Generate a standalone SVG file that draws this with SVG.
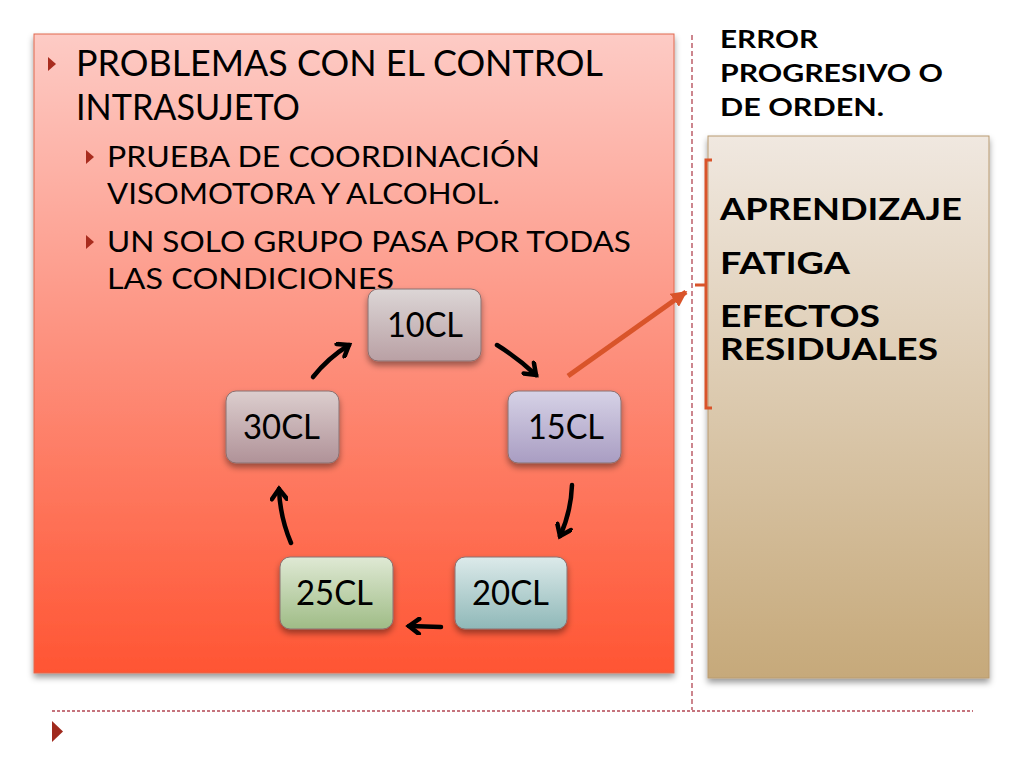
<svg xmlns="http://www.w3.org/2000/svg" width="1024" height="768" viewBox="0 0 1024 768">
<defs>
<linearGradient id="gRed" x1="0" y1="0" x2="0" y2="1">
<stop offset="0" stop-color="#fdcbc5"/><stop offset="0.5" stop-color="#fd8f7c"/><stop offset="1" stop-color="#ff5533"/>
</linearGradient>
<linearGradient id="gTan" x1="0" y1="0" x2="0" y2="1">
<stop offset="0" stop-color="#f0e8e0"/><stop offset="1" stop-color="#c6a97a"/>
</linearGradient>
<linearGradient id="g10" x1="0" y1="0" x2="0" y2="1"><stop offset="0" stop-color="#dcd6d6"/><stop offset="1" stop-color="#b9a0a4"/></linearGradient>
<linearGradient id="g15" x1="0" y1="0" x2="0" y2="1"><stop offset="0" stop-color="#d6d2e6"/><stop offset="1" stop-color="#a99dc2"/></linearGradient>
<linearGradient id="g20" x1="0" y1="0" x2="0" y2="1"><stop offset="0" stop-color="#dceaea"/><stop offset="1" stop-color="#8fb8b8"/></linearGradient>
<linearGradient id="g25" x1="0" y1="0" x2="0" y2="1"><stop offset="0" stop-color="#dfe9d4"/><stop offset="1" stop-color="#9fbc86"/></linearGradient>
<linearGradient id="g30" x1="0" y1="0" x2="0" y2="1"><stop offset="0" stop-color="#dccece"/><stop offset="1" stop-color="#b09298"/></linearGradient>
<filter id="sh" x="-10%" y="-10%" width="120%" height="130%">
<feDropShadow dx="0" dy="4" stdDeviation="3" flood-color="#000" flood-opacity="0.4"/>
</filter>
<marker id="chev" viewBox="0 0 18 18" refX="14" refY="9" markerWidth="18" markerHeight="18" markerUnits="userSpaceOnUse" orient="auto">
<path d="M4,1.5 L14,9 L4,16.5" fill="none" stroke="#000" stroke-width="4.5" stroke-linecap="round" stroke-linejoin="miter"/>
</marker>
<marker id="tri" viewBox="0 0 10 10" refX="9" refY="5" markerWidth="16" markerHeight="16" markerUnits="userSpaceOnUse" orient="auto">
<path d="M0,0 L10,5 L0,10 Z" fill="#d9542a"/>
</marker>
<path id="bul" d="M0,0 L8,7 L0,14 Z" fill="#a82c1e"/>
</defs>
<style>
.t{font-family:Lato,"Liberation Sans",sans-serif;fill:#000}
.b{font-family:Lato,"Liberation Sans",sans-serif;font-weight:bold;fill:#000}
.n{font-family:Lato,"Liberation Sans",sans-serif;font-size:35px;fill:#000}
.nb{stroke:#8a7070;stroke-width:1}
.ar{fill:none;stroke:#000;stroke-width:4.5;stroke-linecap:round;marker-end:url(#chev)}
.dash{stroke:#b24552;stroke-width:1.3;fill:none}
</style>
<rect width="1024" height="768" fill="#fff"/>
<g id="panel-left">
<rect x="34" y="34" width="640" height="639" fill="url(#gRed)" stroke="#e0684f" stroke-width="1" filter="url(#sh)"/>
<use href="#bul" x="48" y="57"/>
<use href="#bul" x="86" y="150"/>
<use href="#bul" x="86" y="235"/>
<text class="t" x="76" y="76" font-size="36" textLength="527" lengthAdjust="spacingAndGlyphs">PROBLEMAS CON EL CONTROL</text>
<text class="t" x="76" y="120" font-size="36" textLength="224" lengthAdjust="spacingAndGlyphs">INTRASUJETO</text>
<text class="t" x="107" y="167" font-size="29" textLength="433" lengthAdjust="spacingAndGlyphs">PRUEBA DE COORDINACIÓN</text>
<text class="t" x="107" y="204" font-size="29" textLength="393" lengthAdjust="spacingAndGlyphs">VISOMOTORA Y ALCOHOL.</text>
<text class="t" x="107" y="252" font-size="29" textLength="524" lengthAdjust="spacingAndGlyphs">UN SOLO GRUPO PASA POR TODAS</text>
<text class="t" x="107" y="289" font-size="29" textLength="287" lengthAdjust="spacingAndGlyphs">LAS CONDICIONES</text>
</g>
<g id="panel-right">
<rect x="708" y="136" width="281" height="542" fill="url(#gTan)" stroke="#b89a70" stroke-width="1" filter="url(#sh)"/>
<text class="b" x="720" y="220" font-size="31" textLength="242" lengthAdjust="spacingAndGlyphs">APRENDIZAJE</text>
<text class="b" x="720" y="274" font-size="31" textLength="130" lengthAdjust="spacingAndGlyphs">FATIGA</text>
<text class="b" x="720" y="327" font-size="30" textLength="160" lengthAdjust="spacingAndGlyphs">EFECTOS</text>
<text class="b" x="720" y="360" font-size="30" textLength="218" lengthAdjust="spacingAndGlyphs">RESIDUALES</text>
</g>
<g id="title-right">
<text class="b" x="720" y="48" font-size="25" textLength="98" lengthAdjust="spacingAndGlyphs">ERROR</text>
<text class="b" x="720" y="82" font-size="25" textLength="223" lengthAdjust="spacingAndGlyphs">PROGRESIVO O</text>
<text class="b" x="720" y="116" font-size="25" textLength="164" lengthAdjust="spacingAndGlyphs">DE ORDEN.</text>
</g>
<g id="decor">
<line class="dash" x1="692" y1="35" x2="692" y2="710" stroke-dasharray="5,3"/>
<line class="dash" x1="52" y1="711" x2="973" y2="711" stroke-dasharray="3,2"/>
<path d="M52,721 L63,731.5 L52,742 Z" fill="#a02a1e"/>
<path d="M712,160 L706,160 L706,408 L712,408 M706,285 L695,285" fill="none" stroke="#d9542a" stroke-width="3"/>
</g>
<g id="connectors">
<path class="ar" d="M497,345 Q518,358 536,375"/>
<path class="ar" d="M572,485 Q571,512 560,536"/>
<path class="ar" d="M441,627 L409,626"/>
<path class="ar" d="M291,543 Q280,517 279,489"/>
<path class="ar" d="M313,377 Q328,358 349,345"/>
<path d="M568,376 L686,292" fill="none" stroke="#d9542a" stroke-width="5" marker-end="url(#tri)"/>
</g>
<g id="node-10CL"><rect class="nb" x="368" y="289" width="113" height="72" rx="10" fill="url(#g10)" filter="url(#sh)"/><text class="n" x="387" y="337" textLength="76" lengthAdjust="spacingAndGlyphs">10CL</text></g>
<g id="node-15CL"><rect class="nb" x="508" y="391" width="113" height="72" rx="10" fill="url(#g15)" filter="url(#sh)"/><text class="n" x="528" y="439" textLength="76" lengthAdjust="spacingAndGlyphs">15CL</text></g>
<g id="node-20CL"><rect class="nb" x="455" y="557" width="112" height="72" rx="10" fill="url(#g20)" filter="url(#sh)"/><text class="n" x="472" y="605" textLength="77" lengthAdjust="spacingAndGlyphs">20CL</text></g>
<g id="node-25CL"><rect class="nb" x="280" y="557" width="113" height="72" rx="10" fill="url(#g25)" filter="url(#sh)"/><text class="n" x="296" y="605" textLength="77" lengthAdjust="spacingAndGlyphs">25CL</text></g>
<g id="node-30CL"><rect class="nb" x="226" y="391" width="113" height="72" rx="10" fill="url(#g30)" filter="url(#sh)"/><text class="n" x="243" y="439" textLength="77" lengthAdjust="spacingAndGlyphs">30CL</text></g>
</svg>
